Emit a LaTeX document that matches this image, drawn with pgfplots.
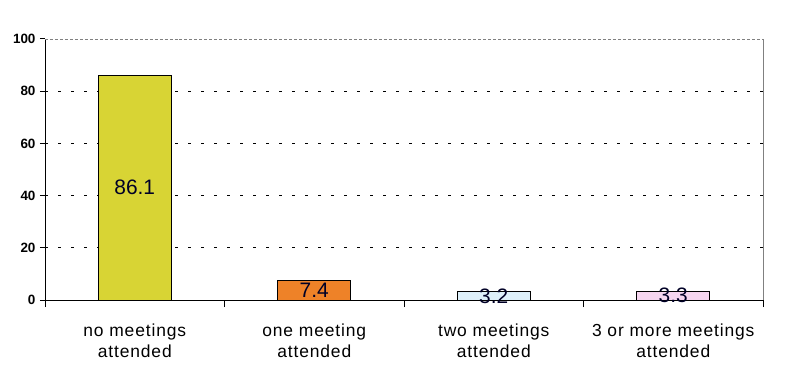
\documentclass[border=0pt]{standalone}
\usepackage{pgfplots}
\pgfplotsset{compat=1.18}
\usepackage{fontspec}
\setmainfont{Liberation Sans}
\definecolor{cyel}{RGB}{216,212,52}
\definecolor{corg}{RGB}{238,130,40}
\definecolor{cblu}{RGB}{222,240,250}
\definecolor{cpnk}{RGB}{246,214,240}
\begin{document}
\begin{tikzpicture}
\useasboundingbox (0,0) rectangle (800bp,377bp);
\begin{axis}[
  at={(45bp,77bp)}, anchor=south west,
  scale only axis, width=718bp, height=261bp,
  xmin=-0.5, xmax=3.5, ymin=0, ymax=100,
  axis x line*=bottom, axis y line*=left,
  axis line style={black, line width=1pt},
  ytick={0,20,40,60,80,100},
  yticklabel style={font=\fontsize{13.5}{14}\selectfont\bfseries, xshift=-1bp},
  /pgf/number format/assume math mode=true,
  extra y ticks={20,40,60,80},
  extra y tick labels={},
  extra y tick style={grid=major, major tick length=0pt},
  grid style={black, dash pattern=on 3bp off 10bp, line width=1.2pt},
  xtick={0,1,2,3},
  xticklabels={{no meetings\\attended},{one meeting\\attended},{two meetings\\attended},{3 or more meetings\\attended}},
  xticklabel style={align=center, font=\fontsize{17.5}{21.5}\selectfont\addfontfeature{LetterSpace=5}, yshift=-15bp},
  major x tick style={draw=none},
  minor xtick={-0.5,0.5,1.5,2.5,3.5},
  minor x tick style={black, line width=1pt},
  tick align=outside,
  major tick length=5bp, minor tick length=7bp,
  ytick style={black, line width=1pt},
  ybar, bar width=73bp, bar shift=0pt,
  clip=false,
]
\addplot[fill=cyel, draw=black, line width=1pt] coordinates {(0,86.1)};
\addplot[fill=corg, draw=black, line width=1pt] coordinates {(1,7.4)};
\addplot[fill=cblu, draw=black, line width=1pt] coordinates {(2,3.2)};
\addplot[fill=cpnk, draw=black, line width=1pt] coordinates {(3,3.3)};
\addplot[only marks, mark=none, nodes near coords, point meta=explicit symbolic,
  nodes near coords style={anchor=center, font=\fontsize{21}{22}\selectfont, text=black!85!blue}]
  coordinates {(0,43.05)[86.1] (1,3.7)[7.4] (2,1.6)[3.2] (3,1.65)[3.3]};
\draw[gray, line width=0.8pt, densely dashed] (rel axis cs:0,1) -- (rel axis cs:1,1);
\draw[gray, line width=0.8pt] (rel axis cs:1,0) -- (rel axis cs:1,1);
\end{axis}
\end{tikzpicture}
\end{document}
